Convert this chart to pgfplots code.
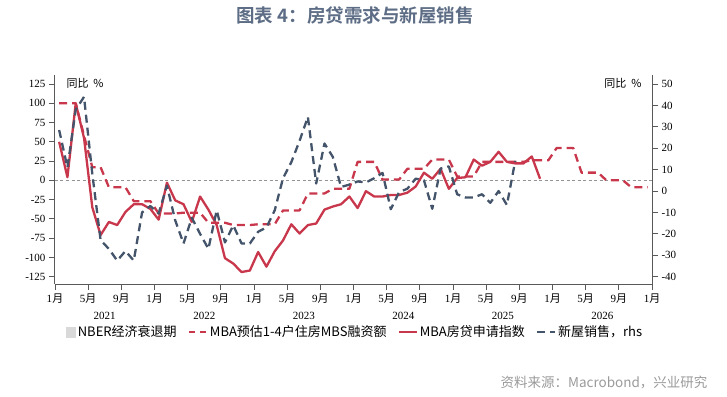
\documentclass[border=0pt]{standalone}
\usepackage{fontspec}
\setmainfont{Liberation Serif}
\newfontfamily\cjk{Noto Sans CJK SC}[BoldFont={Noto Sans CJK SC Bold}]
\usepackage{pgfplots}
\usepackage{pgfplotstable}
\pgfplotsset{compat=1.18}
\definecolor{mred}{HTML}{C8374B}
\definecolor{mblue}{HTML}{44546A}
\definecolor{agray}{HTML}{595959}
\definecolor{titlec}{HTML}{5D6D85}
\definecolor{srcgray}{HTML}{9A9A9A}
\definecolor{nber}{HTML}{D9D9D9}

\pgfplotstableread{
x y
0.5 50
1.5 4
2.5 100
3.5 55
4.5 -35
5.5 -71
6.5 -54
7.5 -58
8.5 -41
9.5 -31
10.5 -31
11.5 -37
12.5 -51
13.5 -3
14.5 -26
15.5 -31
16.5 -54
17.5 -21
18.5 -38
19.5 -58
20.5 -101
21.5 -108
22.5 -119
23.5 -117
24.5 -93
25.5 -112
26.5 -92
27.5 -78
28.5 -57
29.5 -69
30.5 -58
31.5 -56
32.5 -38
33.5 -34
34.5 -31
35.5 -21
36.5 -36
37.5 -14
38.5 -21
39.5 -21
40.5 -19
41.5 -19
42.5 -16
43.5 -8
44.5 10
45.5 2
46.5 15
47.5 -11
48.5 3
49.5 4
50.5 27
51.5 19
52.5 24
53.5 37
54.5 24
55.5 22
56.5 22
57.5 31
58.5 2
}\mbaidx

\pgfplotstableread{
x y
0.5 100
1.5 100
2.5 100
3.5 58
4.5 17
5.5 17
6.5 -9
7.5 -9
8.5 -9
9.5 -27
10.5 -27
11.5 -27
12.5 -43
13.5 -43
14.5 -43
15.5 -42
16.5 -42
17.5 -42
18.5 -55
19.5 -55
20.5 -55
21.5 -58
22.5 -58
23.5 -58
24.5 -57
25.5 -57
26.5 -57
27.5 -39
28.5 -39
29.5 -39
30.5 -17
31.5 -17
32.5 -17
33.5 -11
34.5 -11
35.5 -11
36.5 24
37.5 24
38.5 24
39.5 1
40.5 1
41.5 1
42.5 15
43.5 15
44.5 15
45.5 27
46.5 27
47.5 27
48.5 5
49.5 5
50.5 5
51.5 24
52.5 24
53.5 24
54.5 24
55.5 24
56.5 24
57.5 26
58.5 26
59.5 26
60.5 42
61.5 42
62.5 42
63.5 10
64.5 10
65.5 10
66.5 0
67.5 0
68.5 0
69.5 -9
70.5 -9
71.5 -9
}\mbs

\pgfplotstableread{
x y
0.5 28.5
1.5 11
2.5 38
3.5 44
4.5 8
5.5 -23
6.5 -27
7.5 -32.5
8.5 -28
9.5 -32.5
10.5 -10
11.5 -7
12.5 -10.5
13.5 2.5
14.5 -13.7
15.5 -24.5
16.5 -12.5
17.5 -20
18.5 -27
19.5 -9
20.5 -24
21.5 -16
22.5 -24.5
23.5 -24.5
24.5 -19
25.5 -17
26.5 -9
27.5 6
28.5 13.5
29.5 23.5
30.5 34.7
31.5 3.5
32.5 22.2
33.5 16
34.5 1.9
35.5 3
36.5 4.5
37.5 4
38.5 6
39.5 8.5
40.5 -8.5
41.5 -0.5
42.5 1.1
43.5 5.8
44.5 5
45.5 -8.3
46.5 10.5
47.5 11.5
48.5 -1.5
49.5 -3
50.5 -3
51.5 -1.5
52.5 -5.5
53.5 0
54.5 -6.5
55.5 14
}\nhs

\begin{document}
\begin{tikzpicture}
\useasboundingbox (-55pt,-112pt) rectangle (672pt,284pt);
\pgfplotsset{
  base/.style={
    scale only axis, width=597pt, height=209pt,
    xmin=0, xmax=72, clip=false,
    axis line style={-, draw=agray, line width=1pt},
    tick style={draw=agray, line width=0.8pt},
    tick align=outside, major tick length=6pt,
    tick label style={font=\fontsize{11}{13}\selectfont},
    /pgf/number format/assume math mode=true,
    yticklabel style={/pgf/number format/fixed},
  },
}
\begin{axis}[base,
  ymin=-134.5, ymax=136.7,
  axis x line*=bottom, axis y line*=left,
  ytick={-125,-100,...,125},
  xtick={0,4,...,72},
  xticklabels={1{\cjk 月},5{\cjk 月},9{\cjk 月},1{\cjk 月},5{\cjk 月},9{\cjk 月},1{\cjk 月},5{\cjk 月},9{\cjk 月},1{\cjk 月},5{\cjk 月},9{\cjk 月},1{\cjk 月},5{\cjk 月},9{\cjk 月},1{\cjk 月},5{\cjk 月},9{\cjk 月},1{\cjk 月}},
]
\addplot[gray!85, line width=0.9pt, dash pattern=on 3pt off 2.5pt, forget plot] coordinates {(0,0) (72,0)};
\addplot[mred, line width=2.3pt, dash pattern=on 8pt off 5pt, line join=round, forget plot] table {\mbs};
\addplot[mred, line width=2.3pt, line join=round, forget plot] table {\mbaidx};
\node[anchor=west, xshift=8pt, yshift=-8pt, font=\cjk\fontsize{11}{13}\selectfont] at (rel axis cs:0,1) {同比\ \ \%};
\node[anchor=east, xshift=-7pt, yshift=-8pt, font=\cjk\fontsize{11}{13}\selectfont] at (rel axis cs:1,1) {同比\ \ \%};
\node[yshift=-32pt, font=\fontsize{11}{13}\selectfont] at (axis cs:6,-134.5) {2021};
\node[yshift=-32pt, font=\fontsize{11}{13}\selectfont] at (axis cs:18,-134.5) {2022};
\node[yshift=-32pt, font=\fontsize{11}{13}\selectfont] at (axis cs:30,-134.5) {2023};
\node[yshift=-32pt, font=\fontsize{11}{13}\selectfont] at (axis cs:42,-134.5) {2024};
\node[yshift=-32pt, font=\fontsize{11}{13}\selectfont] at (axis cs:54,-134.5) {2025};
\node[yshift=-32pt, font=\fontsize{11}{13}\selectfont] at (axis cs:66,-134.5) {2026};
\end{axis}
\begin{axis}[base,
  ymin=-43.42, ymax=54.21,
  axis x line=none, axis y line*=right,
  ytick={-40,-30,...,50},
  legend image code/.code={\draw[#1] (0pt,0pt) -- (18pt,0pt);},
  legend style={draw=none, fill=none, at={(0.503,-0.23)}, anchor=center,
    legend columns=4, font=\cjk\fontsize{13}{15}\selectfont,
    inner sep=0pt, legend cell align=left,
    /tikz/every even column/.append style={column sep=9pt}},
]
\addlegendimage{legend image code/.code={\fill[nber] (0pt,-5pt) rectangle (9pt,5pt);}}
\addlegendentry{NBER经济衰退期}
\addlegendimage{mred, line width=2.3pt, dash pattern=on 6pt off 5pt}
\addlegendentry{MBA预估1-4户住房MBS融资额}
\addlegendimage{mred, line width=2.3pt}
\addlegendentry{MBA房贷申请指数}
\addplot[mblue, line width=2.3pt, dash pattern=on 8pt off 5pt, line join=round] table {\nhs};
\addlegendentry{新屋销售，rhs}
\end{axis}
\node[font=\cjk\bfseries\fontsize{18.5}{22}\selectfont, text=titlec] at (300pt,269pt) {图表 4：房贷需求与新屋销售};
\node[anchor=east, font=\cjk\fontsize{13.5}{16}\selectfont, text=srcgray] at (656pt,-99pt) {资料来源：Macrobond，兴业研究};
\end{tikzpicture}
\end{document}
